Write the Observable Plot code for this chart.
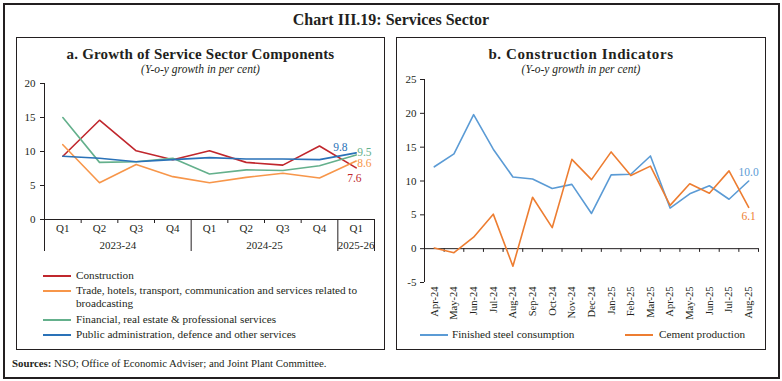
<!DOCTYPE html>
<html><head><meta charset="utf-8">
<script src="https://cdn.jsdelivr.net/npm/d3@7"></script>
<script src="https://cdn.jsdelivr.net/npm/@observablehq/plot@0.6"></script>
<style>
html,body{margin:0;padding:0;background:#fff;overflow:hidden;}
#wrap{position:relative;width:782px;height:381px;overflow:hidden;font-family:"Liberation Serif",serif;color:#231f20;}
.box{position:absolute;border:1px solid #231f20;box-sizing:border-box;}
.t{position:absolute;white-space:nowrap;}
#wrap svg{position:absolute;left:0;top:0;}
</style></head><body><div id="wrap"></div>
<script>
// ---------- data ----------
const quarters = ["Q1","Q2","Q3","Q4","Q1","Q2","Q3","Q4","Q1"];
const fiscalYears = ["2023-24","2024-25","2025-26"];
const seriesA = ["Construction","Trade, hotels, transport, communication and services related to broadcasting","Financial, real estate & professional services","Public administration, defence and other services"];
const construction = [9.3,14.6,10.1,8.8,10.1,8.4,8.0,10.8,7.6];
const trade = [11.0,5.4,8.1,6.3,5.4,6.2,6.8,6.1,8.6];
const financial = [15.0,8.4,8.5,9.0,6.7,7.3,7.2,7.9,9.5];
const publicAdmin = [9.3,9.0,8.5,8.8,9.1,8.9,8.9,8.8,9.8];
const colorsA = ["#c0272d","#f7964a","#64b08c","#2a72b8"];

const months = ["Apr-24","May-24","Jun-24","Jul-24","Aug-24","Sep-24","Oct-24","Nov-24","Dec-24","Jan-25","Feb-25","Mar-25","Apr-25","May-25","Jun-25","Jul-25","Aug-25"];
const seriesB = ["Finished steel consumption","Cement production"];
const steel = [12.1,14.0,19.8,14.7,10.6,10.3,8.9,9.5,5.2,10.9,11.0,13.7,6.0,8.1,9.3,7.3,10.0];
const cement = [0.1,-0.6,1.7,5.1,-2.6,7.6,3.1,13.2,10.2,14.3,10.8,12.2,6.4,9.6,8.2,11.5,6.1];
const colorsB = ["#5b9bd5","#ed7d31"];

// ---------- page ----------
const W = 782, H = 381;
const wrap = document.getElementById("wrap");
function add(html){ wrap.insertAdjacentHTML("beforeend", html); }
add(`<div class="box" style="left:3px;top:3px;width:777px;height:376px;border-width:2px;"></div>`);
add(`<div class="box" style="left:16px;top:37px;width:369px;height:313px;"></div>`);
add(`<div class="box" style="left:396px;top:37px;width:370px;height:313px;"></div>`);
add(`<div class="t" style="left:0;width:782px;text-align:center;top:11px;line-height:18px;font-size:16px;font-weight:bold;">Chart III.19: Services Sector</div>`);
add(`<div class="t" style="left:16px;width:369px;text-align:center;top:46px;line-height:17px;font-size:15px;font-weight:bold;letter-spacing:0.2px;">a. Growth of Service Sector Components</div>`);
add(`<div class="t" style="left:16px;width:369px;text-align:center;top:63px;line-height:12px;font-size:11.5px;font-style:italic;">(Y-o-y growth in per cent)</div>`);
add(`<div class="t" style="left:396px;width:370px;text-align:center;top:46px;line-height:17px;font-size:15px;font-weight:bold;letter-spacing:0.6px;">b. Construction Indicators</div>`);
add(`<div class="t" style="left:396px;width:370px;text-align:center;top:63px;line-height:12px;font-size:11.5px;font-style:italic;">(Y-o-y growth in per cent)</div>`);
add(`<div class="t" style="left:12px;top:356px;line-height:14px;font-size:10.8px;"><b>Sources:</b> NSO; Office of Economic Adviser; and Joint Plant Committee.</div>`);

// legend a
const legA = [[276, 0],[291, 1],[320, 2],[335, 3]];
legA.forEach(([y, k]) => {
  add(`<div style="position:absolute;left:43px;top:${y-1}px;width:28px;height:2px;background:${colorsA[k]}"></div>`);
  let label = seriesA[k];
  if (k === 1) label = label.replace(" broadcasting", "<br>broadcasting");
  add(`<div class="t" style="left:76px;top:${y-7}px;line-height:13px;font-size:11.2px;">${label}</div>`);
});
// legend b
[[420,452,0],[625,659,1]].forEach(([x, tx, k]) => {
  add(`<div style="position:absolute;left:${x}px;top:334px;width:28px;height:2px;background:${colorsB[k]}"></div>`);
  add(`<div class="t" style="left:${tx}px;top:328px;line-height:13px;font-size:11.2px;">${seriesB[k]}</div>`);
});

const baseStyle = {background:"transparent", fontFamily:"Liberation Serif, serif", fontSize:"11px", color:"#231f20", overflow:"visible"};

// ---------- panel a ----------
const valsA = [construction, trade, financial, publicAdmin];
const dataA = valsA.flatMap((arr, k) => arr.map((v, i) => ({i, value:v, series:seriesA[k]})));
const lastA = valsA.map((arr, k) => ({i: arr.length-1, value: arr[arr.length-1], series: seriesA[k]}));
const labelOffsets = [[-9, 10],[1, 2],[1, -3],[-23, -6]];
const yearCenters = [1.5, 5.5, 8];

const plotA = Plot.plot({
  width: W, height: H,
  marginLeft: 44, marginRight: W-374, marginTop: 83, marginBottom: H-219,
  x: {domain: [-0.5, 8.5]},
  y: {domain: [0, 20]},
  color: {domain: seriesA, range: colorsA},
  style: baseStyle,
  marks: [
    Plot.ruleX([-0.5], {stroke:"#231f20"}),
    Plot.ruleY([0], {stroke:"#231f20"}),
    Plot.axisY({ticks:[0,5,10,15,20], tickSize:4, tickPadding:5, tickFormat:d=>String(d), label:null}),
    Plot.axisX({ticks:d3.range(9), tickSize:0, tickPadding:5, tickFormat:i=>quarters[i], label:null}),
    Plot.axisX({ticks:[0.5,1.5,2.5,4.5,5.5,6.5], tickSize:4, tickFormat:()=>"", label:null}),
    Plot.axisX({ticks:[-0.5,3.5,7.5,8.5], tickSize:32, tickFormat:()=>"", label:null}),
    Plot.axisX({ticks:yearCenters, tickSize:0, tickPadding:22, tickFormat:d=>fiscalYears[yearCenters.indexOf(d)], label:null}),
    Plot.line(dataA, {x:"i", y:"value", z:"series", stroke:"series", strokeWidth:1.6}),
    ...lastA.map((d, k) => Plot.text([d], {x:"i", y:"value", text:d=>d.value.toFixed(1), fill:colorsA[k], dx:labelOffsets[k][0], dy:labelOffsets[k][1], textAnchor:"start", fontSize:11.5}))
  ]
});
wrap.appendChild(plotA);

// ---------- panel b ----------
const valsB = [steel, cement];
const dataB = valsB.flatMap((arr, k) => arr.map((v, i) => ({i, value:v, series:seriesB[k]})));
const lastB = valsB.map((arr, k) => ({i: arr.length-1, value: arr[arr.length-1], series: seriesB[k]}));
const plotB = Plot.plot({
  width: W, height: H,
  marginLeft: 424, marginRight: W-758, marginTop: 79, marginBottom: H-282,
  x: {domain: [-0.5, 16.5]},
  y: {domain: [-5, 25]},
  color: {domain: seriesB, range: colorsB},
  style: baseStyle,
  marks: [
    Plot.ruleX([-0.5], {stroke:"#231f20"}),
    Plot.ruleY([0], {stroke:"#231f20"}),
    Plot.ruleX(d3.range(18).map(i => i-0.5), {y1:0, y2:-0.55, stroke:"#231f20"}),
    Plot.axisY({ticks:[-5,0,5,10,15,20,25], tickSize:4, tickPadding:4, tickFormat:d=>String(d), label:null}),
    Plot.axisX({ticks:d3.range(17), tickRotate:-90, tickSize:0, tickPadding:4, tickFormat:i=>months[i], label:null, fontSize:10.5}),
    Plot.line(dataB, {x:"i", y:"value", z:"series", stroke:"series", strokeWidth:1.6}),
    Plot.text([lastB[0]], {x:"i", y:"value", text:d=>d.value.toFixed(1), fill:colorsB[0], dy:-9, fontSize:11.5}),
    Plot.text([lastB[1]], {x:"i", y:"value", text:d=>d.value.toFixed(1), fill:colorsB[1], dy:9, fontSize:11.5})
  ]
});
wrap.appendChild(plotB);
</script></body></html>
